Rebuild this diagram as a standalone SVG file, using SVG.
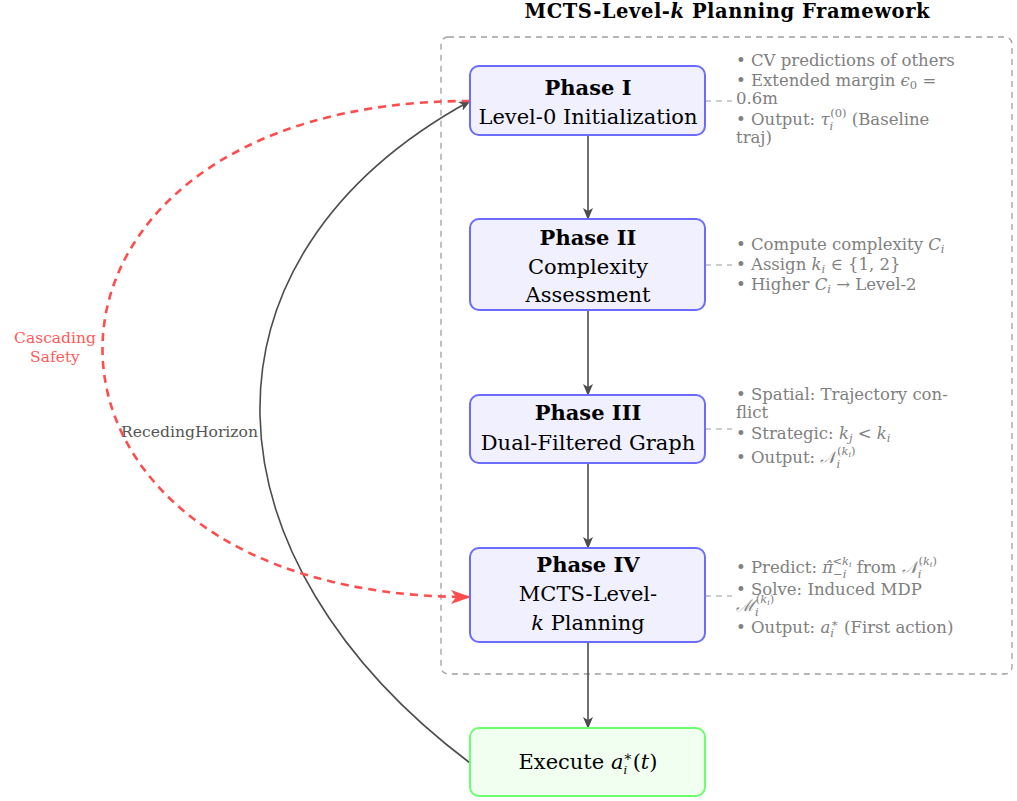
<svg xmlns="http://www.w3.org/2000/svg" width="1017" height="801" viewBox="0 0 1017 801">
  <defs>
    <style>
      text { font-family: "DejaVu Serif", "Liberation Serif", serif; }
      .title { font-size: 19.5px; font-weight: bold; fill: #000; text-anchor: middle; }
      .phase { fill: #f0f0ff; stroke: #6b6bff; stroke-width: 2; }
      .exec { fill: #f0fff0; stroke: #6bff6b; stroke-width: 2; }
      .head { font-size: 21px; font-weight: bold; fill: #000; text-anchor: middle; }
      .body { font-size: 21px; fill: #000; text-anchor: middle; }
      .note { font-size: 16.5px; fill: #808080; }
      .m { font-style: italic; }
      .s { font-size: 11.5px; }
      .frame { fill: none; stroke: #a0a0a0; stroke-width: 1.3; stroke-dasharray: 6 5; }
      .flow { fill: none; stroke: #4d4d4d; stroke-width: 1.6; }
      .leader { fill: none; stroke: #999; stroke-width: 1.2; stroke-dasharray: 6 5; }
      .cascade { fill: none; stroke: #ff4d4d; stroke-width: 2.6; stroke-dasharray: 8 6; }
      .redlbl { font-size: 15.5px; fill: #ff5a5a; text-anchor: middle; }
      .rh { font-size: 15.6px; fill: #555; text-anchor: end; }
    </style>
    <marker id="ah" viewBox="0 0 12 10" refX="11" refY="5" markerWidth="12" markerHeight="10" markerUnits="userSpaceOnUse" orient="auto">
      <path d="M0,0 L12,5 L0,10 L3,5 Z" fill="#4d4d4d"/>
    </marker>
    <marker id="ahr" viewBox="0 0 20 14" refX="19" refY="7" markerWidth="20" markerHeight="14" markerUnits="userSpaceOnUse" orient="auto">
      <path d="M0,0 L20,7 L0,14 L5,7 Z" fill="#ff4d4d"/>
    </marker>
  </defs>

  <rect width="1017" height="801" fill="#ffffff"/>

  <!-- framework title and boundary -->
  <text class="title" x="727" y="18" textLength="405">MCTS-Level-<tspan class="m">k</tspan> Planning Framework</text>
  <rect class="frame" x="441" y="37" width="571" height="637" rx="7"/>

  <!-- connectors -->
  <g id="connectors">
    <line class="flow" x1="588" y1="135" x2="588" y2="219" marker-end="url(#ah)"/>
    <line class="flow" x1="588" y1="310" x2="588" y2="395" marker-end="url(#ah)"/>
    <line class="flow" x1="588" y1="463" x2="588" y2="548" marker-end="url(#ah)"/>
    <line class="flow" x1="588" y1="642" x2="588" y2="728" marker-end="url(#ah)"/>

    <line class="leader" x1="705" y1="101" x2="732" y2="101"/>
    <line class="leader" x1="705" y1="265" x2="732" y2="265"/>
    <line class="leader" x1="705" y1="429" x2="732" y2="429"/>
    <line class="leader" x1="705" y1="596" x2="732" y2="596"/>

    <!-- receding horizon feedback -->
    <path class="flow" d="M470,763 C200,560 180,260 470,101" marker-end="url(#ah)"/>
    <text class="rh" x="258" y="437">RecedingHorizon</text>

    <!-- cascading safety -->
    <path class="cascade" d="M470,101 C-20,101 -20,597 470,597" marker-end="url(#ahr)"/>
    <text class="redlbl" x="55" y="343">Cascading</text>
    <text class="redlbl" x="55" y="362">Safety</text>
  </g>

  <g id="phase1">
    <rect class="phase" x="470" y="66" width="235" height="69" rx="9"/>
    <text class="head" x="588" y="95">Phase I</text>
    <text class="body" x="588" y="124">Level-0 Initialization</text>
    <text class="note" x="736" y="66">• CV predictions of others</text>
    <text class="note" x="736" y="86">• Extended margin <tspan class="m">ϵ</tspan><tspan class="s" dy="3">0</tspan><tspan dy="-3">  =</tspan></text>
    <text class="note" x="736" y="104">0.6m</text>
    <text class="note" x="736" y="125">• Output: <tspan class="m">τ</tspan><tspan class="s m" dy="5">i</tspan><tspan class="s" dx="-3" dy="-13">(0)</tspan><tspan dy="8"> (Baseline</tspan></text>
    <text class="note" x="736" y="143">traj)</text>
  </g>

  <g id="phase2">
    <rect class="phase" x="470" y="219" width="235" height="91" rx="9"/>
    <text class="head" x="588" y="245">Phase II</text>
    <text class="body" x="588" y="274">Complexity</text>
    <text class="body" x="588" y="302">Assessment</text>
    <text class="note" x="736" y="250">• Compute complexity <tspan class="m">C</tspan><tspan class="s m" dy="3">i</tspan></text>
    <text class="note" x="736" y="270">• Assign <tspan class="m">k</tspan><tspan class="s m" dy="3">i</tspan><tspan dy="-3"> ∈ {1, 2}</tspan></text>
    <text class="note" x="736" y="290">• Higher <tspan class="m">C</tspan><tspan class="s m" dy="3">i</tspan><tspan dy="-3"> → Level-2</tspan></text>
  </g>

  <g id="phase3">
    <rect class="phase" x="470" y="395" width="235" height="68" rx="9"/>
    <text class="head" x="588" y="420">Phase III</text>
    <text class="body" x="588" y="450">Dual-Filtered Graph</text>
    <text class="note" x="736" y="400">• Spatial: Trajectory con-</text>
    <text class="note" x="736" y="418">flict</text>
    <text class="note" x="736" y="439">• Strategic: <tspan class="m">k</tspan><tspan class="s m" dy="3">j</tspan><tspan dy="-3"> &lt; </tspan><tspan class="m">k</tspan><tspan class="s m" dy="3">i</tspan></text>
    <text class="note" x="736" y="463">• Output: <tspan class="m">𝒩</tspan><tspan class="s m" dy="5">i</tspan><tspan class="s" dx="-3" dy="-13">(<tspan class="m">k</tspan><tspan class="m" font-size="8" dy="2">i</tspan><tspan dy="-2">)</tspan></tspan></text>
  </g>

  <g id="phase4">
    <rect class="phase" x="470" y="548" width="235" height="94" rx="9"/>
    <text class="head" x="588" y="572">Phase IV</text>
    <text class="body" x="588" y="601">MCTS-Level-</text>
    <text class="body" x="588" y="630"><tspan class="m">k</tspan> Planning</text>
    <text class="note" x="736" y="573">• Predict: <tspan class="m">π̂</tspan><tspan class="s" dy="5">−<tspan class="m">i</tspan></tspan><tspan class="s" dx="-14" dy="-13">&lt;<tspan class="m">k</tspan><tspan class="m" font-size="8" dy="2">i</tspan></tspan><tspan dy="6">  from </tspan><tspan class="m">𝒩</tspan><tspan class="s m" dy="5">i</tspan><tspan class="s" dx="-3" dy="-13">(<tspan class="m">k</tspan><tspan class="m" font-size="8" dy="2">i</tspan><tspan dy="-2">)</tspan></tspan></text>
    <text class="note" x="736" y="595">• Solve: Induced MDP</text>
    <text class="note" x="736" y="611"><tspan class="m">ℳ</tspan><tspan class="s m" dy="5">i</tspan><tspan class="s" dx="-3" dy="-13">(<tspan class="m">k</tspan><tspan class="m" font-size="8" dy="2">i</tspan><tspan dy="-2">)</tspan></tspan></text>
    <text class="note" x="736" y="633">• Output: <tspan class="m">a</tspan><tspan class="s m" dy="4">i</tspan><tspan class="s" dx="-3" dy="-10">∗</tspan><tspan dy="6"> (First action)</tspan></text>
  </g>

  <g id="execute">
    <rect class="exec" x="470" y="728" width="235" height="68" rx="9"/>
    <text class="body" x="588" y="769">Execute <tspan class="m">a</tspan><tspan class="s m" font-size="14" dy="5">i</tspan><tspan font-size="14" dx="-4" dy="-13">∗</tspan><tspan dy="8">(</tspan><tspan class="m">t</tspan>)</text>
  </g>
</svg>
